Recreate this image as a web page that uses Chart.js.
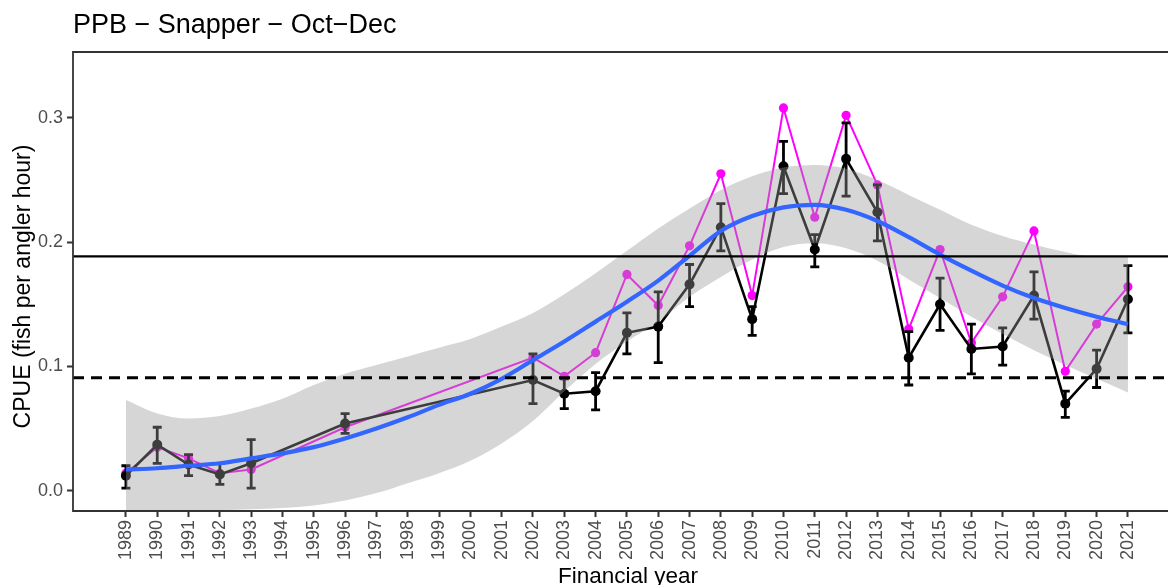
<!DOCTYPE html>
<html>
<head>
<meta charset="utf-8">
<title>PPB − Snapper − Oct−Dec</title>
<script src="https://cdn.jsdelivr.net/npm/chart.js@4/dist/chart.umd.min.js"></script>
<style>
  html, body { margin: 0; padding: 0; background: #ffffff; }
  #wrap { width: 1168px; height: 585px; position: relative; }
</style>
</head>
<body>
<div id="wrap"><canvas id="cpue" width="1168" height="585"></canvas></div>
<script>
// Financial years shown on the x axis
const tickYears = [1989,1990,1991,1992,1993,1994,1995,1996,1997,1998,1999,2000,2001,2002,2003,2004,2005,2006,2007,2008,2009,2010,2011,2012,2013,2014,2015,2016,2017,2018,2019,2020,2021];
const yTicks = [0, 0.1, 0.2, 0.3];

// Years with survey estimates
const surveyYears = [1989,1990,1991,1992,1993,1996,2002,2003,2004,2005,2006,2007,2008,2009,2010,2011,2012,2013,2014,2015,2016,2017,2018,2019,2020,2021];

// Standardised CPUE (black) with its 95% interval
const stdCpue  = [0.012,0.037,0.021,0.013,0.022,0.054,0.089,0.078,0.080,0.127,0.132,0.166,0.212,0.138,0.261,0.194,0.267,0.224,0.107,0.150,0.114,0.116,0.157,0.070,0.098,0.154];
const stdLower = [0.002,0.022,0.012,0.005,0.002,0.046,0.070,0.066,0.065,0.110,0.103,0.148,0.193,0.125,0.239,0.180,0.237,0.201,0.085,0.129,0.094,0.101,0.138,0.059,0.083,0.127];
const stdUpper = [0.020,0.051,0.029,0.022,0.041,0.062,0.110,0.090,0.095,0.143,0.160,0.182,0.231,0.148,0.281,0.206,0.296,0.246,0.128,0.171,0.134,0.131,0.176,0.080,0.113,0.181];

// Nominal CPUE (magenta)
const nomCpue  = [0.014,0.035,0.026,0.014,0.017,0.051,0.107,0.092,0.111,0.174,0.149,0.197,0.255,0.157,0.308,0.220,0.302,0.246,0.130,0.194,0.119,0.156,0.209,0.096,0.134,0.164];

// Smoothed trend with its confidence band, one value per financial year
const trendFit  = [0.017,0.018,0.020,0.022,0.026,0.030,0.035,0.042,0.050,0.059,0.069,0.078,0.090,0.105,0.120,0.136,0.152,0.169,0.189,0.209,0.221,0.228,0.230,0.226,0.217,0.204,0.190,0.177,0.165,0.155,0.147,0.140,0.134];
const trendHigh = [0.073,0.062,0.058,0.060,0.066,0.074,0.085,0.094,0.101,0.108,0.115,0.122,0.132,0.143,0.158,0.175,0.193,0.211,0.227,0.242,0.253,0.260,0.262,0.259,0.250,0.238,0.226,0.214,0.205,0.198,0.192,0.188,0.188];
const trendLow  = [-0.040,-0.027,-0.019,-0.016,-0.015,-0.014,-0.012,-0.008,-0.002,0.006,0.014,0.024,0.038,0.056,0.080,0.102,0.120,0.136,0.156,0.172,0.186,0.196,0.199,0.195,0.185,0.170,0.155,0.140,0.126,0.113,0.101,0.090,0.079];

// Reference levels
const refHigh = 0.1885;
const refLow  = 0.0909;

const X_MIN = 1987.31, X_MAX = 2022.28;
const Y_MIN = -0.0164, Y_MAX = 0.353;
const FONT = '"Liberation Sans", Arial, Helvetica, sans-serif';

const pts = (xs, ys) => xs.map((x, i) => ({ x: x, y: ys[i] }));

// Error bars and panel frame
const decorations = {
  id: 'decorations',
  afterDatasetDraw(chart, args) {
    if (args.meta.label !== 'std') return;
    const { ctx, chartArea } = chart;
    const xs = chart.scales.x, ys = chart.scales.y;
    ctx.save();
    ctx.beginPath();
    ctx.rect(chartArea.left, chartArea.top, chartArea.right - chartArea.left, chartArea.bottom - chartArea.top);
    ctx.clip();
    ctx.strokeStyle = '#000000';
    ctx.lineWidth = 2.8;
    ctx.lineCap = 'butt';
    surveyYears.forEach((yr, i) => {
      const px = xs.getPixelForValue(yr);
      const y0 = ys.getPixelForValue(stdLower[i]);
      const y1 = ys.getPixelForValue(stdUpper[i]);
      ctx.beginPath();
      ctx.moveTo(px, y0); ctx.lineTo(px, y1);
      ctx.moveTo(px - 4.5, y0); ctx.lineTo(px + 4.5, y0);
      ctx.moveTo(px - 4.5, y1); ctx.lineTo(px + 4.5, y1);
      ctx.stroke();
    });
    ctx.restore();
  },
  afterDraw(chart) {
    const { ctx, chartArea } = chart;
    ctx.save();
    ctx.strokeStyle = '#333333';
    ctx.lineWidth = 1.8;
    ctx.beginPath();
    ctx.moveTo(chart.width + 2, chartArea.top);
    ctx.lineTo(chartArea.left, chartArea.top);
    ctx.lineTo(chartArea.left, chartArea.bottom);
    ctx.lineTo(chart.width + 2, chartArea.bottom);
    ctx.stroke();

    ctx.fillStyle = '#000000';
    ctx.textBaseline = 'alphabetic';
    ctx.textAlign = 'left';
    ctx.font = '27px ' + FONT;
    ctx.fillText('PPB \u2212 Snapper \u2212 Oct\u2212Dec', 73, 33);

    ctx.font = '22.5px ' + FONT;
    ctx.textAlign = 'center';
    ctx.fillText('Financial year', 628, 583);

    ctx.font = '23px ' + FONT;
    ctx.save();
    ctx.translate(30, (chartArea.top + chartArea.bottom) / 2 + 5);
    ctx.rotate(-Math.PI / 2);
    ctx.fillText('CPUE (fish per angler hour)', 0, 0);
    ctx.restore();
    ctx.restore();
  }
};

const tickFont = { family: FONT, size: 18 };

new Chart(document.getElementById('cpue'), {
  type: 'line',
  data: {
    datasets: [
      { label: 'refHigh', data: [{ x: X_MIN, y: refHigh }, { x: X_MAX, y: refHigh }],
        borderColor: '#000000', borderWidth: 2.2, pointRadius: 0, fill: false },
      { label: 'refLow', data: [{ x: X_MIN, y: refLow }, { x: X_MAX, y: refLow }],
        borderColor: '#000000', borderWidth: 3, borderDash: [11, 7], pointRadius: 0, fill: false },
      { label: 'trend', data: pts(tickYears, trendFit),
        borderColor: '#3366FF', borderWidth: 4.2, pointRadius: 0, fill: false,
        cubicInterpolationMode: 'monotone' },
      { label: 'bandHigh', data: pts(tickYears, trendHigh),
        borderColor: 'rgba(0,0,0,0)', borderWidth: 0, pointRadius: 0,
        backgroundColor: 'rgba(153,153,153,0.4)', fill: '+1',
        cubicInterpolationMode: 'monotone' },
      { label: 'bandLow', data: pts(tickYears, trendLow),
        borderColor: 'rgba(0,0,0,0)', borderWidth: 0, pointRadius: 0, fill: false,
        cubicInterpolationMode: 'monotone' },
      { label: 'std', data: pts(surveyYears, stdCpue),
        borderColor: '#000000', borderWidth: 2.6, pointRadius: 5,
        pointBackgroundColor: '#000000', pointBorderWidth: 0, fill: false, tension: 0 },
      { label: 'nom', data: pts(surveyYears, nomCpue),
        borderColor: '#FF00FF', borderWidth: 2, pointRadius: 4.6,
        pointBackgroundColor: '#FF00FF', pointBorderWidth: 0, fill: false, tension: 0 }
    ]
  },
  options: {
    responsive: false,
    animation: false,
    devicePixelRatio: 1,
    events: [],
    layout: { autoPadding: false, padding: { top: 52, left: 0, right: 0, bottom: 0 } },
    plugins: {
      legend: { display: false },
      tooltip: { enabled: false },
      title: { display: false },
      filler: { propagate: false }
    },
    scales: {
      x: {
        type: 'linear', min: X_MIN, max: X_MAX, bounds: 'data',
        afterBuildTicks: s => { s.ticks = tickYears.map(v => ({ value: v })); },
        afterFit: s => { s.height = 74; s.paddingLeft = 0; s.paddingRight = 0; },
        border: { display: false },
        grid: { drawOnChartArea: false, drawTicks: true, tickLength: 6, tickColor: '#333333', tickWidth: 2 },
        ticks: {
          autoSkip: false, minRotation: 90, maxRotation: 90, padding: 3,
          color: '#4D4D4D', font: tickFont,
          callback: v => String(v)
        }
      },
      y: {
        type: 'linear', min: Y_MIN, max: Y_MAX, bounds: 'data',
        afterBuildTicks: s => { s.ticks = yTicks.map(v => ({ value: v })); },
        afterFit: s => { s.width = 73; s.paddingTop = 0; s.paddingBottom = 0; },
        border: { display: false },
        grid: { drawOnChartArea: false, drawTicks: true, tickLength: 6, tickColor: '#333333', tickWidth: 2 },
        ticks: {
          padding: 4, color: '#4D4D4D', font: tickFont,
          callback: v => v.toFixed(1)
        }
      }
    }
  },
  plugins: [decorations]
});
</script>
</body>
</html>
